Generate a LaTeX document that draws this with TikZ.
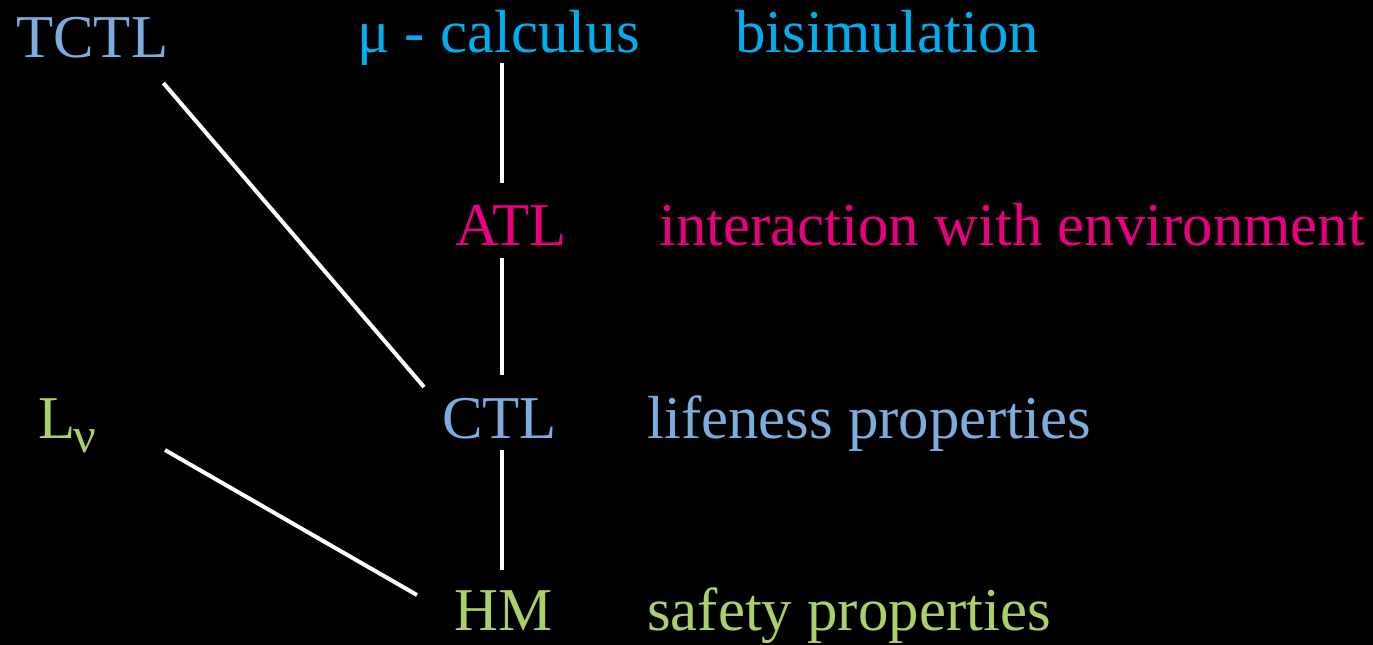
\documentclass[tikz,border=0pt]{standalone}
\usepackage{fontspec}
\setmainfont{Liberation Serif}
\usetikzlibrary{calc}
\definecolor{skyblue}{RGB}{125,172,222}
\definecolor{cyanblue}{RGB}{0,174,239}
\definecolor{magentapink}{RGB}{232,0,128}
\definecolor{limegreen}{RGB}{172,208,104}
\tikzset{
  lbl/.style={anchor=base west, inner sep=0pt, font=\fontsize{60.8}{62}\selectfont},
  link/.style={draw=white, line width=4pt},
}
\begin{document}
\begin{tikzpicture}[x=1pt, y=-1pt]
  \fill[black] (0,0) rectangle (1373,645);
  \useasboundingbox (0,0) rectangle (1373,645);

  % logics
  \node[lbl, text=skyblue]     (tctl) at (16,57)  {TCTL};
  \node[lbl, text=cyanblue]    (mu)   at (357,52) {μ - calculus};
  \node[lbl, text=magentapink] (atl)  at (455,245) {ATL};
  \node[lbl, text=skyblue]     (ctl)  at (442,438) {CTL};
  \node[lbl, text=limegreen]   (lnu)  at (38,438) {L\kern-2pt\raisebox{-0.24em}{\fontsize{50}{52}\selectfont ν}};
  \node[lbl, text=limegreen]   (hm)   at (454,630) {HM};

  % what each logic captures
  \node[lbl, text=cyanblue]    (bisim) at (735,52)  {bisimulation};
  \node[lbl, text=magentapink] (inter) at (659,245) {interaction with environment};
  \node[lbl, text=skyblue]     (live)  at (647,438) {lifeness properties};
  \node[lbl, text=limegreen]   (safe)  at (647,630) {safety properties};

  % expressiveness order
  \coordinate (spine) at (502,0);
  \draw[link] ($(spine |- mu.base)+(0,11)$)   -- ($(spine |- atl.base)+(0,-62)$);
  \draw[link] ($(spine |- atl.base)+(0,13)$)  -- ($(spine |- ctl.base)+(0,-63)$);
  \draw[link] ($(spine |- ctl.base)+(0,12)$)  -- ($(spine |- hm.base)+(0,-60)$);
  \draw[link] ($(tctl.base east)+(-5,26)$)    -- ($(ctl.base west)+(-18,-51)$);
  \draw[link] ($(lnu.base west)+(127,12)$)    -- ($(hm.base west)+(-37,-35)$);
\end{tikzpicture}
\end{document}
